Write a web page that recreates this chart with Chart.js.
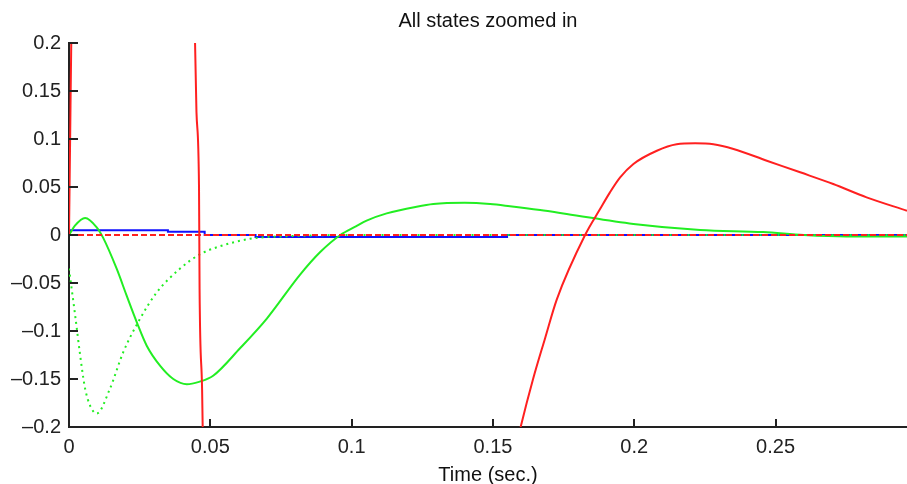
<!DOCTYPE html>
<html>
<head>
<meta charset="utf-8">
<script src="https://cdn.jsdelivr.net/npm/chart.js@4"></script>
<style>
  html, body { margin: 0; padding: 0; background: #fff; }
  #wrap { width: 907px; height: 484px; overflow: hidden; }
</style>
</head>
<body>
<div id="wrap"><canvas id="statesChart" width="907" height="484"></canvas></div>
<script>
// axis ticks
const xTicks = [0, 0.05, 0.1, 0.15, 0.2, 0.25];
const xTickLabels = ['0', '0.05', '0.1', '0.15', '0.2', '0.25'];
const yTicks = [-0.2, -0.15, -0.1, -0.05, 0, 0.05, 0.1, 0.15, 0.2];
const yTickLabels = ['\u20130.2', '\u20130.15', '\u20130.1', '\u20130.05', '0', '0.05', '0.1', '0.15', '0.2'];

// red state (goes far out of the zoomed window)
const redT = [0, 0.0004, 0.0008, 0.003, 0.02, 0.04, 0.0446, 0.0451, 0.046, 0.0462, 0.0471, 0.0473,
  0.06, 0.1, 0.13, 0.148, 0.1555, 0.1598, 0.1642, 0.1684, 0.1726, 0.1826, 0.1879, 0.1914, 0.195,
  0.1997, 0.208, 0.215, 0.2215, 0.228, 0.2351, 0.2469, 0.2587, 0.2704, 0.2822, 0.2965];
const redY = [0, 0.1, 0.2, 0.6, 1.8, 1.2, 0.2, 0.128, 0.05, -0.056, -0.162, -0.2,
  -1.4, -1.5, -0.75, -0.36, -0.255, -0.2, -0.15, -0.108, -0.067, 0, 0.027, 0.0444, 0.06,
  0.074, 0.0878, 0.0945, 0.0955, 0.0945, 0.0896, 0.0774, 0.0653, 0.0531, 0.0392, 0.0253];

// green state, solid
const greenT = [0, 0.0021, 0.0057, 0.0098, 0.0121, 0.0169, 0.0204, 0.024, 0.0275, 0.0322, 0.0369,
  0.0417, 0.046, 0.051, 0.0605, 0.07, 0.0817, 0.0888, 0.096, 0.1015, 0.1053, 0.1124,
  0.123, 0.1289, 0.14, 0.149, 0.156, 0.1667, 0.1761, 0.1997, 0.2233, 0.2456, 0.26, 0.275, 0.2965];
const greenY = [0, 0.0097, 0.0177, 0.008, -0.003, -0.0354, -0.0632, -0.091, -0.1153, -0.1361, -0.15,
  -0.1555, -0.153, -0.1466, -0.118, -0.087, -0.0415, -0.018, 0, 0.009, 0.015, 0.0225,
  0.0295, 0.0323, 0.0335, 0.0323, 0.030, 0.026, 0.0219, 0.0115, 0.0052, 0.003, 0, -0.0015, -0.0015];

// green state, dotted
const greenDotT = [0, 0.0021, 0.0045, 0.0057, 0.0075, 0.0098, 0.0145, 0.0192, 0.0251, 0.031,
  0.0393, 0.0464, 0.0523, 0.064, 0.08, 0.1, 0.2965];
const greenDotY = [-0.035, -0.082, -0.1375, -0.16, -0.178, -0.186, -0.16, -0.122, -0.0875, -0.06,
  -0.035, -0.02, -0.0128, -0.004, -0.001, 0, 0];

// blue state (small steps)
const blueT = [0, 0.0005, 0.035, 0.035, 0.048, 0.048, 0.066, 0.066, 0.155, 0.155, 0.2965];
const blueY = [0, 0.005, 0.005, 0.0035, 0.0035, 0, 0, -0.002, -0.002, 0, 0];

// red dashed reference
const refT = [0, 0.2965];
const refY = [0, 0];

const pts = (t, y) => t.map((v, i) => ({ x: v, y: y[i] }));

// inward tick marks, matlab style
const innerTicks = {
  id: 'innerTicks',
  afterDraw(chart) {
    const { ctx, chartArea, scales } = chart;
    ctx.save();
    ctx.strokeStyle = '#222';
    ctx.lineWidth = 2;
    ctx.beginPath();
    scales.x.ticks.forEach(t => {
      const px = Math.round(scales.x.getPixelForValue(t.value));
      ctx.moveTo(px, chartArea.bottom);
      ctx.lineTo(px, chartArea.bottom - 8);
    });
    scales.y.ticks.forEach(t => {
      const py = Math.round(scales.y.getPixelForValue(t.value));
      ctx.moveTo(chartArea.left, py);
      ctx.lineTo(chartArea.left + 9, py);
    });
    ctx.stroke();
    ctx.restore();
  }
};

const font = { family: '"Liberation Sans", Arial, sans-serif', size: 20, weight: 'normal' };

new Chart(document.getElementById('statesChart'), {
  type: 'line',
  data: {
    datasets: [
      { data: pts(refT, refY), borderColor: '#ff2020', borderWidth: 2, borderDash: [6, 3], order: 0 },
      { data: pts(redT, redY), borderColor: '#ff2020', borderWidth: 2, cubicInterpolationMode: 'monotone', order: 1 },
      { data: pts(greenT, greenY), borderColor: '#22ee22', borderWidth: 2, cubicInterpolationMode: 'monotone', order: 2 },
      { data: pts(greenDotT, greenDotY), borderColor: '#22ee22', borderWidth: 2, borderDash: [2, 4], cubicInterpolationMode: 'monotone', order: 3 },
      { data: pts(blueT, blueY), borderColor: '#1010ff', borderWidth: 2, tension: 0, order: 4 }
    ]
  },
  options: {
    responsive: false,
    animation: false,
    events: [],
    elements: { point: { radius: 0 } },
    layout: { padding: 0 },
    plugins: {
      legend: { display: false },
      tooltip: { enabled: false },
      title: {
        display: true,
        text: 'All states zoomed in',
        fullSize: false,
        color: '#111',
        font: font,
        padding: { top: 9, bottom: 10 }
      }
    },
    scales: {
      x: {
        type: 'linear',
        min: 0,
        max: 0.2965,
        grid: { display: false, drawTicks: false },
        border: { display: true, color: '#222', width: 2 },
        afterBuildTicks: s => { s.ticks = xTicks.map(v => ({ value: v })); },
        afterFit: s => { s.height = 57; },
        ticks: {
          color: '#222',
          font: font,
          padding: 8,
          maxRotation: 0,
          autoSkip: false,
          callback: (v, i) => xTickLabels[i]
        },
        title: {
          display: true,
          text: 'Time (sec.)',
          color: '#111',
          font: font,
          padding: { top: 0, bottom: -3 }
        }
      },
      y: {
        min: -0.2,
        max: 0.2,
        grid: { display: false, drawTicks: false },
        border: { display: true, color: '#222', width: 2 },
        afterBuildTicks: s => { s.ticks = yTicks.map(v => ({ value: v })); },
        afterFit: s => { s.width = 69; },
        ticks: {
          color: '#222',
          font: font,
          padding: 8,
          autoSkip: false,
          callback: (v, i) => yTickLabels[i]
        }
      }
    }
  },
  plugins: [innerTicks]
});
</script>
</body>
</html>
